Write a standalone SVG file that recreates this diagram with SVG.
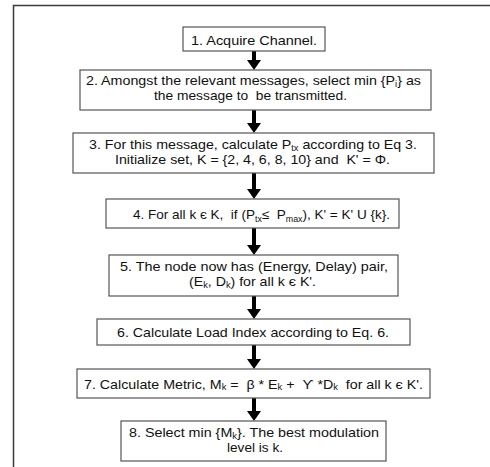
<svg xmlns="http://www.w3.org/2000/svg" width="490" height="467" viewBox="0 0 490 467">
<style>
.frame{fill:none;stroke:#3a3a3a;stroke-width:1.5}
.box{fill:#fff;stroke:#555;stroke-width:1.2}
.t{font-family:"Liberation Sans",Arial,Helvetica,sans-serif;font-size:13px;fill:#111;text-anchor:middle;white-space:pre}
.s{font-size:8.5px}
.arrow{stroke:#000;stroke-width:4;fill:none}
</style>
<defs>
<marker id="ah" viewBox="0 0 10 14" refX="0" refY="7" markerWidth="10" markerHeight="14" markerUnits="userSpaceOnUse" orient="auto">
<path d="M0,0 L10,7 L0,14 Z" fill="#000"/>
</marker>
</defs>
<path class="frame" d="M13.5,467 V5.5 H490"/>
<g id="connectors">
<line class="arrow" x1="254" y1="51" x2="254" y2="60" marker-end="url(#ah)"/>
<line class="arrow" x1="254" y1="110" x2="254" y2="123" marker-end="url(#ah)"/>
<line class="arrow" x1="254" y1="173" x2="254" y2="189" marker-end="url(#ah)"/>
<line class="arrow" x1="254" y1="228" x2="254" y2="245" marker-end="url(#ah)"/>
<line class="arrow" x1="254" y1="296" x2="254" y2="309" marker-end="url(#ah)"/>
<line class="arrow" x1="254" y1="345" x2="254" y2="359" marker-end="url(#ah)"/>
<line class="arrow" x1="254" y1="398" x2="254" y2="411" marker-end="url(#ah)"/>
</g>
<g id="n1">
<rect class="box" x="183" y="27" width="142" height="24"/>
<text class="t" x="254" y="44.5" textLength="126" lengthAdjust="spacingAndGlyphs">1. Acquire Channel.</text>
</g>
<g id="n2">
<rect class="box" x="80" y="70" width="351" height="40"/>
<text class="t" x="253.5" y="85" textLength="335" lengthAdjust="spacingAndGlyphs">2. Amongst the relevant messages, select min {P<tspan class="s" baseline-shift="-2">i</tspan>} as</text>
<text class="t" x="250.5" y="100" textLength="193" lengthAdjust="spacingAndGlyphs">the message to  be transmitted.</text>
</g>
<g id="n3">
<rect class="box" x="73" y="133" width="361" height="40"/>
<text class="t" x="253" y="148.5" textLength="328" lengthAdjust="spacingAndGlyphs">3. For this message, calculate P<tspan class="s" baseline-shift="-2">tx</tspan> according to Eq 3.</text>
<text class="t" x="252.5" y="164" textLength="275" lengthAdjust="spacingAndGlyphs">Initialize set, K = {2, 4, 6, 8, 10} and  K' = Φ.</text>
</g>
<g id="n4">
<rect class="box" x="106" y="199" width="293" height="29"/>
<text class="t" x="261.5" y="218.5" textLength="257" lengthAdjust="spacingAndGlyphs">4. For all k є K,  if (P<tspan class="s" baseline-shift="-3">tx</tspan>≤  P<tspan class="s" baseline-shift="-3">max</tspan>), K' = K' U {k}.</text>
</g>
<g id="n5">
<rect class="box" x="109" y="255" width="289" height="41"/>
<text class="t" x="254" y="271" textLength="268" lengthAdjust="spacingAndGlyphs">5. The node now has (Energy, Delay) pair,</text>
<text class="t" x="252.5" y="286" textLength="127" lengthAdjust="spacingAndGlyphs">(E<tspan class="s" baseline-shift="-2">k</tspan>, D<tspan class="s" baseline-shift="-2">k</tspan>) for all k є K'.</text>
</g>
<g id="n6">
<rect class="box" x="97" y="319" width="313" height="26"/>
<text class="t" x="253" y="337" textLength="272" lengthAdjust="spacingAndGlyphs">6. Calculate Load Index according to Eq. 6.</text>
</g>
<g id="n7">
<rect class="box" x="77" y="369" width="353" height="29"/>
<text class="t" x="253.5" y="388.5" textLength="339" lengthAdjust="spacingAndGlyphs">7. Calculate Metric, M<tspan class="s" baseline-shift="-1">k</tspan> =  β * E<tspan class="s" baseline-shift="-1">k</tspan> +  ϒ *D<tspan class="s" baseline-shift="-1">k</tspan>  for all k є K'.</text>
</g>
<g id="n8">
<rect class="box" x="121" y="421" width="265" height="40"/>
<text class="t" x="254" y="436.5" textLength="250" lengthAdjust="spacingAndGlyphs">8. Select min {M<tspan class="s" baseline-shift="-2">k</tspan>}. The best modulation</text>
<text class="t" x="255" y="451.5" textLength="56" lengthAdjust="spacingAndGlyphs">level is k.</text>
</g>
</svg>
